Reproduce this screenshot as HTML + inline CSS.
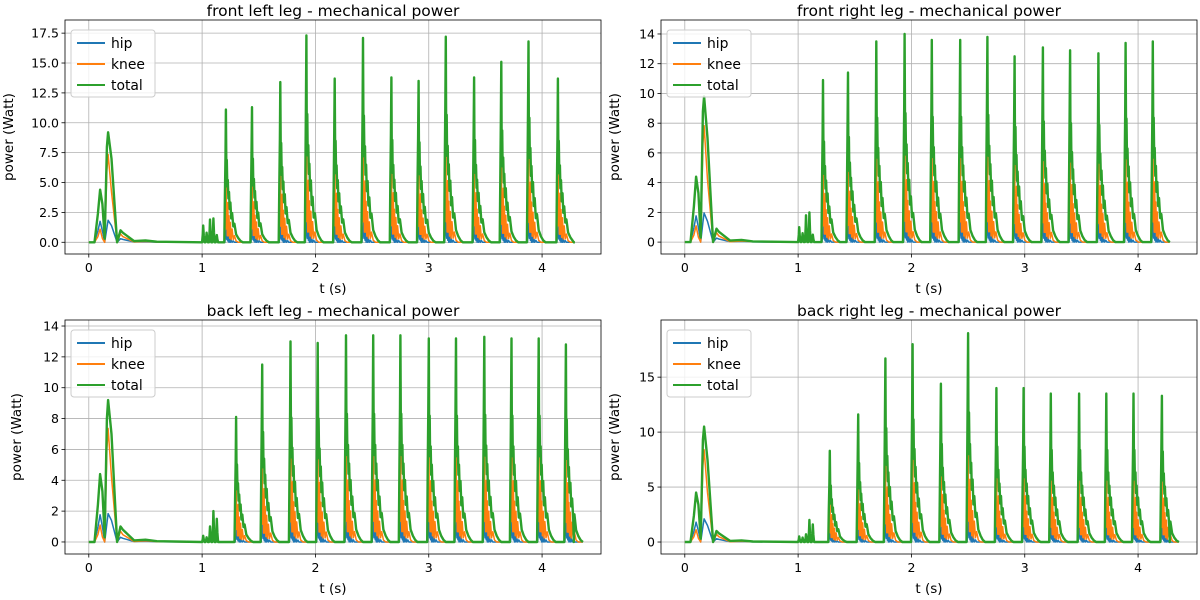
<!DOCTYPE html>
<html><head><meta charset="utf-8"><style>
body{margin:0;background:#fff;}
svg{display:block;font-family:"DejaVu Sans","Liberation Sans",sans-serif;}
</style></head><body>
<svg id="fig" width="1200" height="600" viewBox="0 0 1200 600" xmlns="http://www.w3.org/2000/svg"></svg>
<script>
// ---- data ----
const panelTitles = ["front left leg - mechanical power","front right leg - mechanical power","back left leg - mechanical power","back right leg - mechanical power"];
const seriesNames = ["hip","knee","total"];
const peakTimesFL = [1.21,1.44,1.69,1.92,2.17,2.42,2.67,2.91,3.15,3.40,3.64,3.88,4.14];
const peakValsFL  = [11.1,11.3,13.4,17.3,13.7,17.1,13.8,13.5,17.2,13.8,15.1,16.8,13.7];
const peakTimesFR = [1.22,1.44,1.69,1.94,2.18,2.43,2.67,2.91,3.16,3.40,3.65,3.89,4.13];
const peakValsFR  = [10.9,11.4,13.5,14.0,13.6,13.6,13.8,12.5,13.1,12.9,12.7,13.4,13.5];
const peakTimesBL = [1.30,1.53,1.78,2.02,2.27,2.51,2.75,3.00,3.24,3.49,3.73,3.97,4.21];
const peakValsBL  = [8.1,11.5,13.0,12.9,13.4,13.4,13.4,13.2,13.2,13.3,13.2,13.2,12.8];
const peakTimesBR = [1.28,1.53,1.77,2.01,2.26,2.50,2.75,2.99,3.23,3.48,3.72,3.96,4.21];
const peakValsBR  = [8.3,11.6,16.7,18.0,14.4,19.0,14.0,14.0,13.5,13.5,13.5,13.5,13.3];
const smallTimes = [1.01,1.04,1.07,1.10,1.13];
const smallValsFL = [1.4,0.8,1.9,2.0,0.6];
const smallValsFR = [1.0,0.6,1.8,2.0,0.5];
const smallValsBL = [0.4,0.3,1.0,2.0,1.5];
const smallValsBR = [0.5,0.4,0.7,2.0,1.6];
const startTimes = [0.05,0.08,0.10,0.12,0.14,0.16,0.17,0.20,0.25,0.28,0.30,0.40,0.50,0.60];
const startTotalFL = [0,2.4,4.4,3.2,0.3,8.0,9.2,7.0,0,1.0,0.8,0.1,0.15,0.05];
const startTotalFR = [0,2.4,4.4,3.3,0.3,8.8,9.8,7.0,0,0.9,0.7,0.1,0.15,0.05];
const startTotalBL = [0,2.4,4.4,3.3,0.3,8.0,9.2,7.0,0,1.0,0.8,0.1,0.15,0.05];
const startTotalBR = [0,2.4,4.5,3.4,0.3,9.3,10.5,7.5,0,1.0,0.8,0.1,0.15,0.05];
const startKneeFrac = [0,0.2,0.25,0.1,0,0.75,0.8,0.6,0,0.7,0.6,0.3,0.5,0.5];
const startHipFrac  = [0,0.4,0.4,0.3,0,0.15,0.2,0.2,0,0.3,0.3,0.3,0.3,0.3];
const tmplDt    = [-0.014,-0.009,-0.004,0,0.004,0.008,0.012,0.017,0.022,0.027,0.033,0.040,0.047,0.055,0.065,0.075,0.09,0.11,0.13,0.15];
const tmplTotal = [0,0.35,0.65,1,0.5,0.62,0.42,0.47,0.33,0.38,0.25,0.3,0.18,0.22,0.12,0.14,0.06,0.03,0.01,0];
const tmplKnee  = [0,0.1,0.4,0.85,0.1,0.25,0.05,0.3,0.05,0.2,0.03,0.15,0.02,0.1,0.02,0.05,0.01,0,0,0];
const tmplHip   = [0,0,0.05,0.05,0.1,0.02,0.08,0.01,0.06,0,0.04,0,0.02,0,0.01,0,0,0,0,0];
const yTicks = [[0,2.5,5,7.5,10,12.5,15,17.5],[0,2,4,6,8,10,12,14],[0,2,4,6,8,10,12,14],[0,5,10,15]];
const yTickLabels = [["0.0","2.5","5.0","7.5","10.0","12.5","15.0","17.5"],["0","2","4","6","8","10","12","14"],["0","2","4","6","8","10","12","14"],["0","5","10","15"]];
const xTicks = [0,1,2,3,4];
const yLims = [[-0.98,18.6],[-0.8,14.94],[-0.78,14.39],[-1.09,20.2]];

const panels = [
 {x0:65,x1:601,y0:20,y1:254,pt:peakTimesFL,pv:peakValsFL,sv:smallValsFL,st:startTotalFL},
 {x0:661,x1:1197,y0:20,y1:254,pt:peakTimesFR,pv:peakValsFR,sv:smallValsFR,st:startTotalFR},
 {x0:65,x1:601,y0:320,y1:554,pt:peakTimesBL,pv:peakValsBL,sv:smallValsBL,st:startTotalBL},
 {x0:661,x1:1197,y0:320,y1:554,pt:peakTimesBR,pv:peakValsBR,sv:smallValsBR,st:startTotalBR}
];
const colors = ["#1f77b4","#ff7f0e","#2ca02c"];
const NS="http://www.w3.org/2000/svg";
const fig=document.getElementById('fig');
function mk(tag,attrs,parent){const e=document.createElementNS(NS,tag);for(const k in attrs)e.setAttribute(k,attrs[k]);(parent||fig).appendChild(e);return e;}

panels.forEach((p,pi)=>{
  const g=mk('g',{});
  
  
  const xmin=-0.21,xmax=4.52,[ymin,ymax]=yLims[pi];
  const X=t=>p.x0+(t-xmin)/(xmax-xmin)*(p.x1-p.x0);
  const Y=v=>p.y1-(v-ymin)/(ymax-ymin)*(p.y1-p.y0);
  xTicks.forEach(t=>{
    const l=mk('line',{x1:X(t),x2:X(t),y1:p.y0,y2:p.y1,stroke:'#b0b0b0','stroke-width':0.8},g);
    
    
    mk('line',{x1:X(t),x2:X(t),y1:p.y1,y2:p.y1+3.5,stroke:'#000','stroke-width':0.8},g);
    const tx=mk('text',{x:X(t),y:p.y1+18,'font-size':12.5,'text-anchor':'middle',fill:'#000'},g);
    tx.textContent=String(t);
    
    
  });
  yTicks[pi].forEach((v,i)=>{
    const l=mk('line',{x1:p.x0,x2:p.x1,y1:Y(v),y2:Y(v),stroke:'#b0b0b0','stroke-width':0.8},g);
    
    
    mk('line',{x1:p.x0-3.5,x2:p.x0,y1:Y(v),y2:Y(v),stroke:'#000','stroke-width':0.8},g);
    const tx=mk('text',{x:p.x0-6,y:Y(v)+4.5,'font-size':12.5,'text-anchor':'end',fill:'#000'},g);
    tx.textContent=yTickLabels[pi][i];
    
    
  });
  const series=[[],[],[]];
  [0,4.28].forEach(t=>series.forEach(s=>s.push([t,0])));
  startTimes.forEach((t,i)=>{
    const tot=p.st[i];
    series[2].push([t,tot]);
    series[1].push([t,tot*startKneeFrac[i]]);
    series[0].push([t,tot*startHipFrac[i]]);
  });
  smallTimes.forEach((t,i)=>{
    [-0.01,-0.004,0,0.005,0.011].forEach((d,j)=>{
      const f=[0,0.5,1,0.4,0][j];
      series[2].push([t+d,p.sv[i]*f]);
      series[1].push([t+d,p.sv[i]*f*0.3]);
      series[0].push([t+d,p.sv[i]*f*0.3]);
    });
  });
  p.pt.forEach((t,i)=>{
    tmplDt.forEach((d,j)=>{
      series[2].push([t+d,p.pv[i]*tmplTotal[j]]);
      series[1].push([t+d,p.pv[i]*tmplKnee[j]]);
      series[0].push([t+d,p.pv[i]*tmplHip[j]]);
    });
  });
  series.forEach((s,si)=>{
    s.sort((a,b)=>a[0]-b[0]);
    const path=mk('polyline',{points:s.map(q=>X(q[0]).toFixed(1)+','+Y(q[1]).toFixed(1)).join(' '),fill:'none',stroke:colors[si],'stroke-width':si===2?2.4:1.5,'stroke-linejoin':'round'},g);
    
    
  });
  const fr=mk('rect',{x:p.x0,y:p.y0,width:p.x1-p.x0,height:p.y1-p.y0,fill:'none',stroke:'#000','stroke-width':0.8},g);
  
  
  const ti=mk('text',{x:(p.x0+p.x1)/2,y:p.y0-4,'font-size':15.5,'text-anchor':'middle',fill:'#000'},g);
  ti.textContent=panelTitles[pi];
  
  
  const xl=mk('text',{x:(p.x0+p.x1)/2,y:p.y1+39,'font-size':13.5,'text-anchor':'middle',fill:'#000'},g);
  xl.textContent='t (s)';
  
  
  const yx=p.x0-(pi===0?52:(pi===2?44:42));
  const yl=mk('text',{x:yx,y:(p.y0+p.y1)/2,'font-size':13.5,'text-anchor':'middle',fill:'#000',transform:`rotate(-90 ${yx} ${(p.y0+p.y1)/2})`},g);
  yl.textContent='power (Watt)';
  
  
  const lg=mk('g',{},g);
  
  
  const lx=p.x0+6,ly=p.y0+10;
  mk('rect',{x:lx,y:ly,width:84,height:67,rx:3,fill:'#fff','fill-opacity':0.8,stroke:'#ccc','stroke-width':1},lg);
  seriesNames.forEach((n,si)=>{
    const yy=ly+13+si*21;
    mk('line',{x1:lx+6,x2:lx+34,y1:yy,y2:yy,stroke:colors[si],'stroke-width':2},lg);
    const t=mk('text',{x:lx+40,y:yy+5,'font-size':13.9,fill:'#000'},lg);
    t.textContent=n;
    
    
  });
});
</script>
</body></html>
